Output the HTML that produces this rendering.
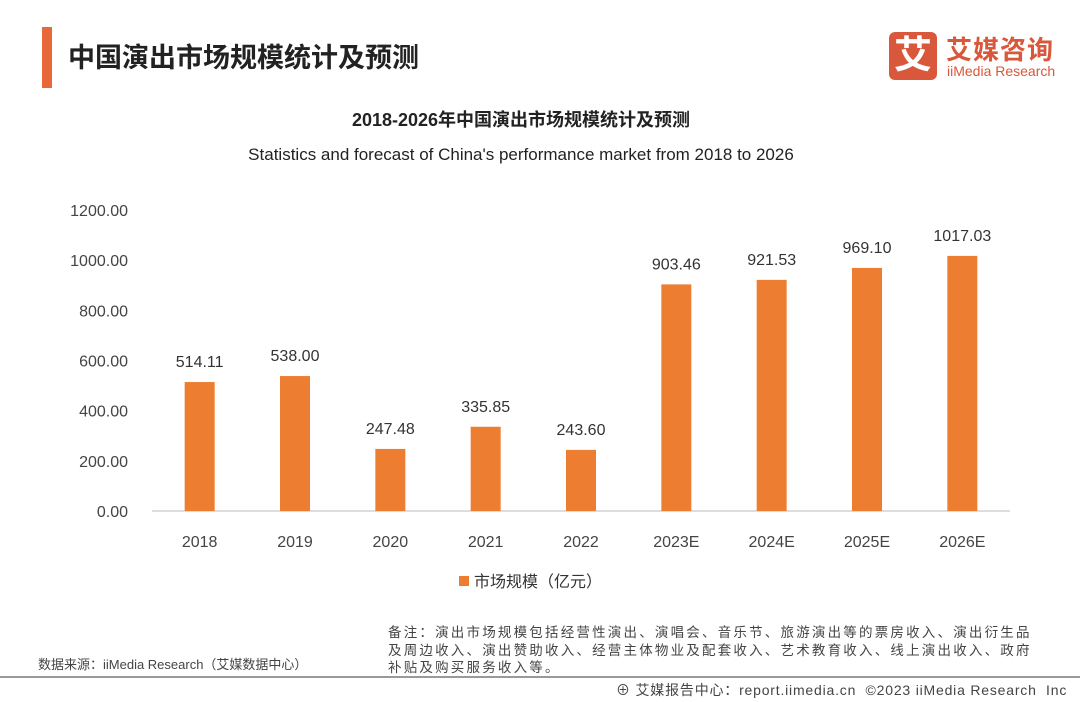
<!DOCTYPE html>
<html><head><meta charset="utf-8"><style>
body{margin:0;width:1080px;height:702px;background:#fff;position:relative;overflow:hidden;font-family:"Liberation Sans","Noto Sans CJK SC",sans-serif;}
.abs{position:absolute;}
</style></head><body>
<div class="abs" style="left:42px;top:27px;width:10px;height:61px;background:#E8683A"></div>
<div class="abs" style="left:68px;top:36px;font-size:27px;font-weight:bold;color:#222">中国演出市场规模统计及预测</div>
<div class="abs" style="left:889px;top:32px;width:48px;height:48px;background:#D9573A;border-radius:6px;color:#fff;font-size:38px;font-weight:bold;text-align:center;line-height:48px">艾</div>
<div class="abs" style="left:946px;top:30px;font-size:26px;font-weight:bold;color:#D9573A;letter-spacing:1px">艾媒咨询</div>
<div class="abs" style="left:947px;top:63px;font-size:14px;color:#D9573A">iiMedia Research</div>
<svg class="abs" style="left:0;top:0" width="1080" height="702" id="chart">
<text x="521" y="126" text-anchor="middle" font-size="18" font-weight="bold" fill="#222">2018-2026年中国演出市场规模统计及预测</text>
<text x="521" y="160" text-anchor="middle" font-size="17" fill="#222">Statistics and forecast of China's performance market from 2018 to 2026</text>
<g id="g"></g>
<rect x="459" y="576" width="10" height="10" fill="#ED7D31"/>
<text x="474" y="587" font-size="16" fill="#333">市场规模（亿元）</text>
</svg>
<div class="abs" style="left:38px;top:654px;font-size:13px;color:#444">数据来源：iiMedia Research（艾媒数据中心）</div>
<div class="abs" style="left:388px;top:624px;width:690px;font-size:13.5px;line-height:17.5px;color:#444;white-space:nowrap;letter-spacing:2.2px">备注：演出市场规模包括经营性演出、演唱会、音乐节、旅游演出等的票房收入、演出衍生品<br>及周边收入、演出赞助收入、经营主体物业及配套收入、艺术教育收入、线上演出收入、政府<br>补贴及购买服务收入等。</div>
<div class="abs" style="left:0;top:676px;width:1080px;height:2px;background:#999"></div>
<div class="abs" style="left:616px;top:680px;font-size:14px;color:#444;white-space:nowrap;letter-spacing:0.8px">⊕ 艾媒报告中心：report.iimedia.cn &nbsp;©2023 iiMedia Research &nbsp;Inc</div>
<script>
const categories=["2018","2019","2020","2021","2022","2023E","2024E","2025E","2026E"];
const values=[514.11,538.00,247.48,335.85,243.60,903.46,921.53,969.10,1017.03];
const valueLabels=["514.11","538.00","247.48","335.85","243.60","903.46","921.53","969.10","1017.03"];
const yTicks=[0,200,400,600,800,1000,1200];
const yTickLabels=["0.00","200.00","400.00","600.00","800.00","1000.00","1200.00"];
const NS="http://www.w3.org/2000/svg";
const g=document.getElementById('g');
const y0=511,y1=210,vmax=1200;
const yS=v=>y0-(v/vmax)*(y0-y1);
const xL=152,xR=1010,step=(xR-xL)/categories.length;
const xS=i=>xL+step*(i+0.5);
function mk(t,a){const e=document.createElementNS(NS,t);for(const k in a)e.setAttribute(k,a[k]);g.appendChild(e);return e;}
yTicks.forEach((v,i)=>{const t=mk('text',{x:128,y:yS(v)+6,'text-anchor':'end','font-size':16,fill:'#444'});t.textContent=yTickLabels[i];

});
const ax=mk('line',{x1:xL,x2:xR,y1:y0,y2:y0,stroke:'#bbb','stroke-width':1});


categories.forEach((c,i)=>{
const x=xS(i),w=30;
const r=mk('rect',{x:x-w/2,y:yS(values[i]),width:w,height:y0-yS(values[i]),fill:'#ED7D31'});


const l=mk('text',{x:x,y:yS(values[i])-15,'text-anchor':'middle','font-size':16,fill:'#333'});l.textContent=valueLabels[i];


const t=mk('text',{x:x,y:547,'text-anchor':'middle','font-size':16,fill:'#444'});t.textContent=c;


});
</script>
</body></html>
